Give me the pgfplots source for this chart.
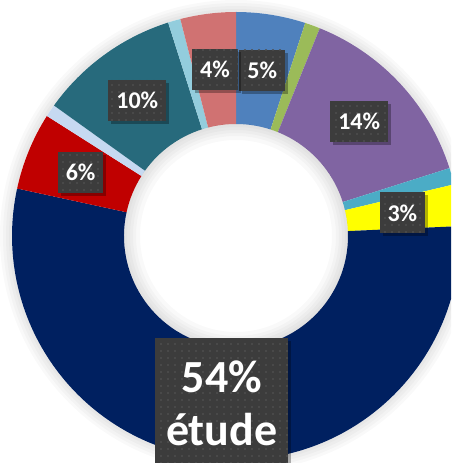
\documentclass[border=0pt]{standalone}
\usepackage{pgfplots}
\pgfplotsset{compat=1.18}
\usepackage{pgfplotstable}
\usepackage{fontspec}
\setmainfont{Carlito}
\usetikzlibrary{shadows,patterns.meta}

\definecolor{sBlue}{HTML}{4F81BD}
\definecolor{sGreen}{HTML}{9BBB59}
\definecolor{sPurple}{HTML}{8064A2}
\definecolor{sCyan}{HTML}{4BACC6}
\definecolor{sYellow}{HTML}{FFFF00}
\definecolor{sNavy}{HTML}{002060}
\definecolor{sRed}{HTML}{C00000}
\definecolor{sLavender}{HTML}{C6D9F1}
\definecolor{sTeal}{HTML}{276A7C}
\definecolor{sSky}{HTML}{93CDDD}
\definecolor{sSalmon}{HTML}{D07272}
\definecolor{boxGray}{HTML}{3C3C3C}
\definecolor{dotGray}{HTML}{4E4E4E}

% shares in %, clockwise from 12 o'clock
\pgfplotstableread{
share colour
5.0  sBlue
1.1  sGreen
14.0 sPurple
1.2  sCyan
3.0  sYellow
54.1 sNavy
5.6  sRed
0.9  sLavender
10.2 sTeal
0.9  sSky
4.0  sSalmon
}\shares

\newcommand\Rout{224pt}
\newcommand\Rin{112pt}
\newcommand\Rlab{168pt}

% cumulative angles (done in the preamble so no stray spaces reach the page)
\pgfplotstablegetrowsof{\shares}
\pgfmathtruncatemacro\lastrow{\pgfplotsretval-1}
\xdef\cumShare{0}
\foreach \i in {0,...,\lastrow}{%
  \pgfplotstablegetelem{\i}{share}\of\shares
  \pgfmathsetmacro\segV{\pgfplotsretval}
  \pgfmathsetmacro\segA{90-3.6*\cumShare}
  \pgfmathsetmacro\segB{90-3.6*(\cumShare+\segV)}
  \pgfmathsetmacro\segM{(\segA+\segB)/2}
  \pgfmathtruncatemacro\segP{round(\segV)}
  \expandafter\xdef\csname sA\i\endcsname{\segA}
  \expandafter\xdef\csname sB\i\endcsname{\segB}
  \expandafter\xdef\csname sM\i\endcsname{\segM}
  \expandafter\xdef\csname sP\i\endcsname{\segP}
  \pgfplotstablegetelem{\i}{colour}\of\shares
  \xglobal\colorlet{slice\i}{\pgfplotsretval}
  \pgfmathsetmacro\segC{\cumShare+\segV}
  \xdef\cumShare{\segC}
}

\tikzset{
  lab/.style={fill=boxGray, text=white, font=\fontsize{24}{28}\selectfont\bfseries,
    inner xsep=8pt, minimum height=41pt,
    postaction={pattern={Dots[distance=7pt, radius=1.1pt]}, pattern color=dotGray},
    drop shadow={shadow xshift=3pt, shadow yshift=-3pt, opacity=0.3, fill=black}},
}

\begin{document}
\begin{tikzpicture}
\begin{axis}[
  scale only axis, width=451pt, height=463pt,
  xmin=-1.05357, xmax=0.95982, ymin=-1.01339, ymax=1.05357,
  hide axis, clip=true]
  % soft glow outside the ring
  \pgfplotsinvokeforeach{3,6,9,12}{
    \draw[black, opacity=0.025, line width=#1pt] (axis cs:0,0) circle[radius=\Rout+#1pt/2];
  }
  \pgfplotsinvokeforeach{0,...,10}{
    \fill[slice#1] ([shift={(\csname sA#1\endcsname:\Rout)}]axis cs:0,0)
      arc[start angle=\csname sA#1\endcsname, end angle=\csname sB#1\endcsname, radius=\Rout]
      -- ([shift={(\csname sB#1\endcsname:\Rin)}]axis cs:0,0)
      arc[start angle=\csname sB#1\endcsname, end angle=\csname sA#1\endcsname, radius=\Rin]
      -- cycle;
  }
  % inner shadow of the hole
  \pgfplotsinvokeforeach{3,6,9,12,16}{
    \draw[black, opacity=0.025, line width=#1pt] (axis cs:0,0) circle[radius=\Rin-#1pt/2];
  }
  \pgfplotsinvokeforeach{0,2,4,6,8,10}{
    \node[lab] at ([shift={(\csname sM#1\endcsname:\Rlab)}]axis cs:0,0) {\csname sP#1\endcsname\%};
  }
  \node[lab, font=\fontsize{46}{53}\selectfont\bfseries, align=center,
    inner xsep=11pt, minimum height=130pt]
    at ([shift={(\csname sM5\endcsname:\Rlab)}]axis cs:0,0) {\csname sP5\endcsname\%\\étude};
\end{axis}
\pgfresetboundingbox
\useasboundingbox (current axis.south west) rectangle (current axis.north east);
\end{tikzpicture}
\end{document}
